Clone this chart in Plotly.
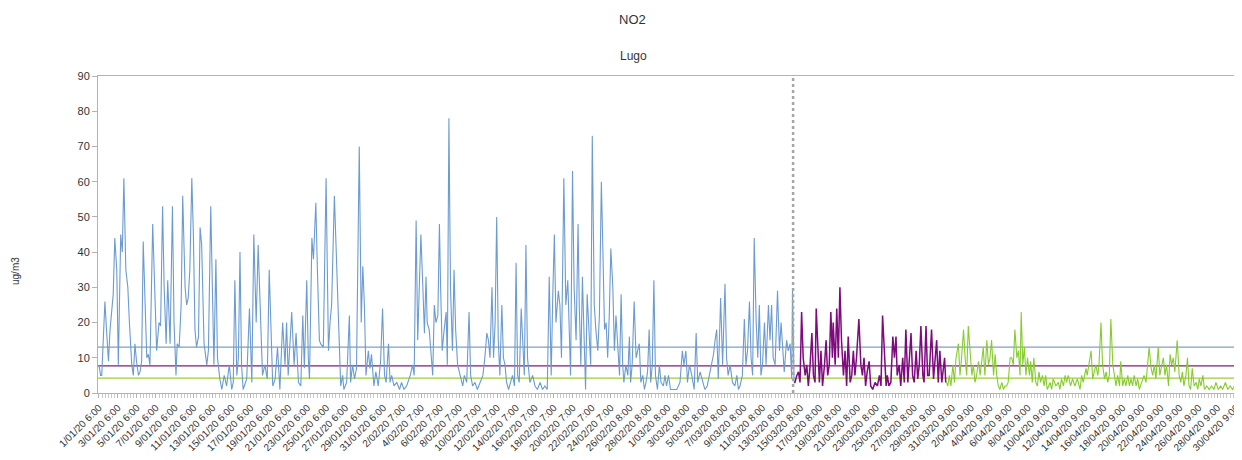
import plotly.graph_objects as go

# ---------------- data (hours since 1/01/20 6:00, NO2 ug/m3) ----------------
blue_hours = [0, 4, 7, 15, 19, 24, 28, 32, 36, 40, 45, 49, 55, 59, 63, 68, 73, 77, 83, 87, 91, 95, 100, 104,
              108, 112, 116, 121, 125, 129, 136, 142, 146, 152, 156, 161, 165, 170, 174, 180, 186, 190, 195,
              198, 203, 208, 212, 218, 222, 226, 230, 235, 239, 243, 247, 252, 256, 260, 266, 273, 277, 283,
              288, 291, 296, 300, 306, 311, 317, 323, 330, 336, 340, 344, 349, 353, 357, 361, 365, 374, 381,
              387, 392, 398, 403, 409, 414, 420, 426, 431, 435, 440, 446, 452, 458, 465, 471, 475, 479, 488,
              494, 499, 505, 511, 516, 520, 526, 530, 533, 539, 543, 549, 553, 558, 561, 568, 575, 581, 585,
              589, 596, 599, 604, 608, 612, 617, 620, 627, 634, 637, 642, 647, 652, 659, 664, 668, 672, 676,
              682, 686, 690, 696, 701, 707, 713, 718, 723, 727, 733, 737, 741, 747, 754, 761, 766, 772, 779,
              788, 794, 798, 803, 807, 811, 815, 820, 824, 828, 831, 836, 841, 845, 849, 853, 858, 862, 865,
              869, 874, 879, 882, 886, 890, 895, 899, 903, 908, 914, 921, 925, 931, 937, 941, 946, 952, 958,
              965, 972, 977, 982, 986, 990, 995, 999, 1003, 1007, 1011, 1015, 1020, 1024, 1028, 1032, 1037,
              1042, 1047, 1052, 1056, 1060, 1064, 1069, 1073, 1077, 1081, 1085, 1091, 1098, 1104, 1110, 1117,
              1123, 1129, 1135, 1140, 1145, 1149, 1153, 1157, 1163, 1167, 1171, 1177, 1179, 1182, 1187, 1190,
              1194, 1199, 1203, 1208, 1213, 1216, 1220, 1224, 1228, 1232, 1236, 1242, 1245, 1249, 1254, 1258,
              1263, 1267, 1272, 1275, 1280, 1284, 1288, 1292, 1296, 1301, 1305, 1309, 1313, 1318, 1322, 1326,
              1329, 1334, 1339, 1343, 1346, 1350, 1355, 1360, 1364, 1368, 1372, 1377, 1381, 1385, 1389, 1393,
              1397, 1401, 1405, 1409, 1414, 1419, 1423, 1429, 1433, 1437, 1442, 1447, 1454, 1463, 1471, 1477,
              1481, 1486, 1490, 1495, 1501, 1507, 1512, 1516, 1522, 1529, 1534, 1540, 1545, 1550, 1556, 1560,
              1564, 1568, 1574, 1579, 1585, 1589, 1593, 1598, 1604, 1610, 1615, 1619, 1623, 1629, 1634, 1638,
              1642, 1647, 1651, 1655, 1659, 1664, 1668, 1672, 1676, 1680, 1685, 1689, 1695, 1699, 1703, 1707,
              1712, 1718, 1723, 1727, 1731, 1735, 1741, 1745, 1750, 1754, 1756, 1760]
blue_values = [8, 5, 5, 26, 18, 9, 18, 23, 28, 44, 35, 8, 45, 40, 61, 35, 30, 20, 8, 5, 14, 9, 5, 6,
               9, 43, 30, 10, 11, 8, 48, 25, 12, 20, 19, 53, 30, 14, 32, 14, 53, 20, 5,
               14, 13, 25, 56, 30, 25, 27, 35, 61, 45, 18, 13, 16, 47, 42, 14, 8, 12, 53,
               20, 8, 38, 10, 4, 1, 5, 2, 8, 1, 3, 32, 5, 10, 40, 8, 1, 4, 24,
               3, 45, 20, 42, 20, 5, 8, 4, 35, 22, 2, 4, 13, 1, 20, 8, 20, 5, 23,
               8, 17, 3, 2, 22, 7, 32, 10, 4, 44, 38, 54, 35, 15, 14, 13, 61, 12, 20,
               25, 56, 45, 30, 12, 2, 5, 1, 3, 22, 3, 8, 4, 7, 70, 20, 36, 25, 5,
               12, 7, 11, 2, 6, 2, 9, 24, 5, 3, 14, 3, 5, 2, 3, 1, 3, 1, 2,
               5, 8, 5, 49, 15, 30, 45, 30, 17, 33, 20, 18, 10, 5, 25, 20, 22, 48, 30,
               12, 18, 23, 8, 78, 30, 12, 35, 18, 8, 5, 2, 5, 3, 23, 5, 2, 3, 1,
               3, 5, 10, 17, 15, 10, 30, 10, 20, 50, 15, 5, 25, 10, 8, 3, 1,
               3, 5, 2, 37, 5, 3, 24, 12, 5, 42, 10, 3, 5, 2, 1, 3,
               1, 2, 1, 33, 5, 28, 45, 20, 29, 25, 10, 61, 45, 25, 32, 20,
               5, 63, 30, 15, 48, 25, 8, 33, 15, 1, 28, 15, 8, 73, 25, 18,
               12, 22, 60, 45, 18, 20, 10, 22, 41, 30, 12, 22, 15, 5, 28, 8,
               3, 8, 5, 16, 3, 8, 26, 10, 12, 14, 3, 5, 1, 3, 6, 18,
               3, 8, 32, 5, 1, 8, 3, 2, 5, 2, 5, 1, 1, 1, 3, 12,
               8, 12, 3, 8, 5, 1, 17, 3, 6, 3, 1, 2, 5, 8, 11, 15,
               18, 4, 27, 8, 31, 10, 5, 8, 3, 2, 5, 1, 2, 5, 21, 8,
               12, 26, 10, 5, 44, 20, 10, 25, 5, 8, 20, 8, 25, 15, 25, 10,
               8, 29, 12, 20, 12, 6, 15, 12, 14, 4, 29, 3]

purple_hours = [1760, 1762, 1767, 1771, 1775, 1779, 1783, 1788, 1792, 1796, 1800, 1805, 1809, 1813, 1816,
                1820, 1824, 1828, 1832, 1837, 1841, 1845, 1849, 1853, 1857, 1859, 1864, 1868, 1872, 1876,
                1880, 1885, 1889, 1893, 1897, 1902, 1906, 1910, 1914, 1918, 1924, 1929, 1933, 1937, 1941,
                1945, 1950, 1954, 1959, 1965, 1971, 1976, 1980, 1984, 1989, 1993, 1996, 2000, 2005, 2010,
                2014, 2018, 2021, 2026, 2030, 2035, 2039, 2043, 2048, 2052, 2056, 2060, 2064, 2069, 2073,
                2077, 2081, 2086, 2089, 2094, 2098, 2102, 2108, 2113, 2117, 2121, 2125, 2129, 2134, 2138,
                2141, 2144]
purple_values = [3, 3, 5, 6, 3, 23, 10, 5, 8, 2, 7, 17, 5, 3, 24,
                 12, 3, 12, 2, 8, 15, 5, 8, 23, 10, 20, 8, 24, 10, 30,
                 15, 5, 12, 2, 16, 3, 5, 12, 5, 10, 21, 8, 5, 10, 2,
                 6, 9, 2, 1, 3, 2, 5, 2, 22, 8, 2, 5, 2, 3, 16,
                 10, 16, 5, 8, 2, 10, 3, 18, 3, 10, 17, 5, 3, 12, 4,
                 8, 19, 5, 3, 19, 5, 5, 18, 4, 10, 15, 3, 12, 3, 8,
                 10, 3]

green_hours = [2144, 2146, 2149, 2153, 2157, 2162, 2166, 2170, 2176, 2180, 2184, 2189, 2193, 2197, 2201,
               2205, 2210, 2214, 2218, 2222, 2227, 2231, 2235, 2239, 2243, 2248, 2252, 2256, 2260, 2265,
               2269, 2273, 2277, 2281, 2286, 2290, 2294, 2298, 2302, 2307, 2311, 2315, 2319, 2324, 2328,
               2332, 2335, 2339, 2343, 2347, 2351, 2356, 2359, 2363, 2367, 2372, 2376, 2380, 2384, 2389,
               2393, 2397, 2401, 2408, 2412, 2416, 2423, 2429, 2433, 2437, 2442, 2446, 2450, 2454, 2460,
               2465, 2471, 2477, 2484, 2488, 2492, 2499, 2502, 2507, 2512, 2516, 2520, 2524, 2529, 2532,
               2537, 2541, 2546, 2550, 2554, 2558, 2562, 2567, 2571, 2575, 2579, 2584, 2587, 2592, 2596,
               2600, 2605, 2609, 2613, 2617, 2621, 2626, 2630, 2634, 2640, 2646, 2651, 2655, 2659, 2664,
               2668, 2672, 2676, 2682, 2686, 2691, 2695, 2699, 2703, 2708, 2712, 2716, 2720, 2724, 2730,
               2735, 2739, 2743, 2747, 2752, 2756, 2760, 2764, 2768, 2773, 2778, 2782, 2786, 2790, 2795,
               2799, 2805, 2811, 2817, 2823, 2828, 2834, 2840, 2845, 2852, 2858, 2864, 2870, 2875, 2881,
               2886, 2890]
green_values = [3, 3, 2, 5, 2, 8, 3, 10, 14, 5, 10, 18, 10, 5, 19,
                12, 5, 8, 3, 5, 9, 5, 10, 13, 5, 15, 8, 10, 15, 5,
                11, 5, 2, 1, 3, 1, 2, 2, 3, 10, 10, 8, 18, 10, 12,
                5, 23, 8, 13, 5, 10, 5, 9, 3, 10, 3, 2, 6, 3, 5,
                2, 5, 1, 3, 1, 4, 2, 3, 1, 4, 2, 5, 3, 5, 2,
                4, 2, 4, 1, 5, 3, 7, 5, 8, 12, 4, 6, 8, 5, 8,
                20, 8, 4, 6, 3, 5, 21, 8, 5, 2, 5, 2, 9, 2, 4,
                2, 5, 2, 4, 2, 5, 2, 4, 1, 3, 5, 3, 8, 13, 7,
                5, 8, 4, 13, 5, 8, 10, 5, 8, 2, 11, 8, 10, 6, 15,
                5, 3, 6, 2, 5, 10, 2, 1, 7, 2, 3, 1, 4, 2, 5,
                1, 2, 1, 2, 1, 3, 1, 2, 1, 3, 1, 2, 1, 2, 4,
                1, 2]

assert len(blue_hours) == len(blue_values), (len(blue_hours), len(blue_values))
assert len(purple_hours) == len(purple_values), (len(purple_hours), len(purple_values))
assert len(green_hours) == len(green_values), (len(green_hours), len(green_values))

# period averages (ug/m3)
blue_mean = 13.0
purple_mean = 7.7
green_mean = 4.2

# start of the state of alarm (hours since first sample)
lockdown_hour = 1757.5

tick_hours = [h * 48 for h in range(61)]
tick_labels = [
    "1/01/20 6:00", "3/01/20 6:00", "5/01/20 6:00", "7/01/20 6:00", "9/01/20 6:00", "11/01/20 6:00",
    "13/01/20 6:00", "15/01/20 6:00", "17/01/20 6:00", "19/01/20 6:00", "21/01/20 6:00", "23/01/20 6:00",
    "25/01/20 6:00", "27/01/20 6:00", "29/01/20 6:00", "31/01/20 6:00", "2/02/20 7:00", "4/02/20 7:00",
    "6/02/20 7:00", "8/02/20 7:00", "10/02/20 7:00", "12/02/20 7:00", "14/02/20 7:00", "16/02/20 7:00",
    "18/02/20 7:00", "20/02/20 7:00", "22/02/20 7:00", "24/02/20 7:00", "26/02/20 8:00", "28/02/20 8:00",
    "1/03/20 8:00", "3/03/20 8:00", "5/03/20 8:00", "7/03/20 8:00", "9/03/20 8:00", "11/03/20 8:00",
    "13/03/20 8:00", "15/03/20 8:00", "17/03/20 8:00", "19/03/20 8:00", "21/03/20 8:00", "23/03/20 8:00",
    "25/03/20 8:00", "27/03/20 8:00", "29/03/20 9:00", "31/03/20 9:00", "2/04/20 9:00", "4/04/20 9:00",
    "6/04/20 9:00", "8/04/20 9:00", "10/04/20 9:00", "12/04/20 9:00", "14/04/20 9:00", "16/04/20 9:00",
    "18/04/20 9:00", "20/04/20 9:00", "22/04/20 9:00", "24/04/20 9:00", "26/04/20 9:00", "28/04/20 9:00",
    "30/04/20 9:00",
]

# ---------------- figure ----------------
FONT = "Liberation Sans, Arial, sans-serif"
x_range = [-2.5, 2889]

fig = go.Figure()

# mean lines
for val, col in [(blue_mean, "#7f9fc2"), (purple_mean, "#7a1f74"), (green_mean, "#9ccc3c")]:
    fig.add_trace(go.Scatter(x=x_range, y=[val, val], mode="lines",
                             line=dict(color=col, width=1.2), hoverinfo="skip", showlegend=False))

fig.add_trace(go.Scatter(x=blue_hours, y=blue_values, mode="lines",
                         line=dict(color="#6b9bd1", width=1.1), showlegend=False, name="NO2"))
fig.add_trace(go.Scatter(x=purple_hours, y=purple_values, mode="lines",
                         line=dict(color="#7e0a7e", width=1.5), showlegend=False, name="NO2"))
fig.add_trace(go.Scatter(x=green_hours, y=green_values, mode="lines",
                         line=dict(color="#86cc2e", width=1.1), showlegend=False, name="NO2"))

fig.add_shape(type="line", xref="x", yref="y", x0=lockdown_hour, x1=lockdown_hour, y0=0, y1=90,
              line=dict(color="#a6a6a6", width=2.5, dash="dot"))

# the page has an 8px body margin, so the figure is drawn 8px right/down of the window corner
OFF = 8
W, H = 1242 - OFF, 460 - OFF
L, R, T = 98 - OFF, 2, 76 - OFF
B = H - (393 - OFF)
plot_h = H - T - B
plot_w = W - L - R

def px_x(p):
    return (p - OFF - L) / plot_w

def px_y(p):
    return (H - B - (p - OFF)) / plot_h

fig.update_layout(
    width=W, height=H,
    margin=dict(l=L, r=R, t=T, b=B),
    paper_bgcolor="white", plot_bgcolor="white",
    font=dict(family=FONT, color="#333333"),
    annotations=[
        dict(text="NO2", x=px_x(632), y=px_y(20), xref="paper", yref="paper", showarrow=False,
             xanchor="center", yanchor="middle", font=dict(size=13, color="#333333", family=FONT)),
        dict(text="Lugo", x=px_x(633), y=px_y(56), xref="paper", yref="paper", showarrow=False,
             xanchor="center", yanchor="middle", font=dict(size=12, color="#333333", family=FONT)),
        dict(text="ug/m3", x=px_x(15), y=px_y(271), xref="paper", yref="paper", showarrow=False,
             textangle=-90, xanchor="center", yanchor="middle", font=dict(size=10, color="#333333", family=FONT)),
    ],
)

fig.update_xaxes(
    range=x_range, tickmode="array", tickvals=tick_hours, ticktext=tick_labels,
    tickangle=-45, tickfont=dict(size=10, color="#333333", family=FONT),
    showgrid=False, zeroline=False, showline=True, linecolor="#b3b3b3", linewidth=1,
    mirror=True, ticks="outside", ticklen=4, tickcolor="#b3b3b3",
    minor=dict(ticks="outside", ticklen=4, tickcolor="#c8c8c8", dtick=8, tick0=0, showgrid=False),
    automargin=False,
)
fig.update_yaxes(
    range=[0, 90], tickmode="linear", tick0=0, dtick=10,
    tickfont=dict(size=11, color="#333333", family=FONT),
    showgrid=False, zeroline=False, showline=True, linecolor="#b3b3b3", linewidth=1,
    ticks="outside", ticklen=5, tickcolor="#b3b3b3",
    automargin=False,
)

fig.write_html("out.html")
